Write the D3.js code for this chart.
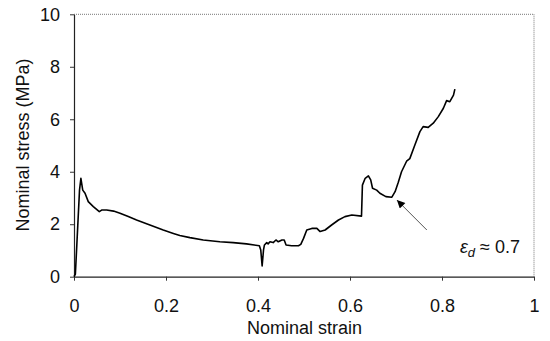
<!DOCTYPE html>
<html>
<head>
<meta charset="utf-8">
<script src="https://cdn.jsdelivr.net/npm/d3@7"></script>
<style>
  html, body { margin: 0; padding: 0; background: #fff; }
  svg { display: block; font-family: "Liberation Sans", Arial, sans-serif; }
</style>
</head>
<body>
<svg id="chart" width="550" height="341"></svg>
<script>
// Stress-strain curve.
const strain = [0, 0.003, 0.012, 0.015, 0.019, 0.024, 0.031, 0.042, 0.055, 0.060,
  0.071, 0.086, 0.100, 0.118, 0.136, 0.165, 0.194, 0.216, 0.230, 0.252,
  0.281, 0.317, 0.346, 0.375, 0.403, 0.406, 0.409, 0.412, 0.414, 0.419,
  0.422, 0.426, 0.433, 0.439, 0.444, 0.452, 0.457, 0.461, 0.473, 0.488,
  0.493, 0.499, 0.506, 0.517, 0.528, 0.535, 0.546, 0.560, 0.575, 0.589,
  0.604, 0.625, 0.627, 0.633, 0.640, 0.645, 0.649, 0.658, 0.665, 0.678,
  0.691, 0.698, 0.705, 0.712, 0.723, 0.730, 0.741, 0.752, 0.759, 0.770,
  0.781, 0.792, 0.803, 0.810, 0.817, 0.825, 0.828];
const stress = [0, 0.1, 3.3, 3.75, 3.3, 3.18, 2.86, 2.67, 2.48, 2.54,
  2.54, 2.50, 2.42, 2.29, 2.16, 1.97, 1.78, 1.65, 1.57, 1.49,
  1.40, 1.33, 1.30, 1.25, 1.18, 1.02, 0.41, 1.02, 1.21, 1.30,
  1.25, 1.33, 1.30, 1.40, 1.33, 1.40, 1.40, 1.21, 1.18, 1.18,
  1.23, 1.46, 1.78, 1.84, 1.84, 1.72, 1.78, 1.97, 2.16, 2.29,
  2.35, 2.31, 3.49, 3.75, 3.84, 3.69, 3.37, 3.30, 3.18, 3.05,
  3.03, 3.24, 3.6, 4.0, 4.4, 4.5, 5.02, 5.53, 5.72, 5.69,
  5.85, 6.10, 6.42, 6.71, 6.67, 6.92, 7.15];

const xTicks = [0, 0.2, 0.4, 0.6, 0.8, 1];
const yTicks = [0, 2, 4, 6, 8, 10];

// Annotation: arrow points at the densification strain.
const annotTip = [0.702, 2.92];
const annotTail = [0.767, 1.78];
const annotText = [0.839, 0.9];

const svg = d3.select("#chart");
const margin = { top: 14.3, right: 16, bottom: 64.3, left: 74 };
const width = +svg.attr("width") - margin.left - margin.right;
const height = +svg.attr("height") - margin.top - margin.bottom;

const x = d3.scaleLinear().domain([0, 1]).range([0, width]);
const y = d3.scaleLinear().domain([0, 10]).range([height, 0]);

const g = svg.append("g").attr("transform", `translate(${margin.left},${margin.top})`);

// Dotted top and right frame.
g.append("line").attr("x1", 0).attr("x2", width).attr("y1", 0).attr("y2", 0)
  .attr("stroke", "#777").attr("stroke-dasharray", "1,1");
g.append("line").attr("x1", width).attr("x2", width).attr("y1", 0).attr("y2", height)
  .attr("stroke", "#777").attr("stroke-dasharray", "1,1");

// X axis.
const xAxis = g.append("g")
  .attr("transform", `translate(0,${height})`)
  .call(d3.axisBottom(x).tickValues(xTicks).tickSize(4).tickSizeOuter(0).tickPadding(19)
    .tickFormat(d3.format("~g")));

// Y axis.
const yAxis = g.append("g")
  .call(d3.axisLeft(y).tickValues(yTicks).tickSize(4).tickSizeOuter(0).tickPadding(10));

[xAxis, yAxis].forEach(a => {
  a.select(".domain").attr("stroke", "#222").attr("stroke-width", 1.2);
  a.selectAll(".tick line").attr("stroke", "#333");
  a.selectAll(".tick text").attr("font-size", 18).attr("fill", "#111")
    .attr("font-family", "'Liberation Sans', Arial, sans-serif");
});

// Axis titles.
svg.append("text")
  .attr("x", margin.left + width / 2 + 0.5).attr("y", 334)
  .attr("text-anchor", "middle").attr("font-size", 18).attr("fill", "#111")
  .text("Nominal strain");
svg.append("text")
  .attr("transform", `translate(29,145) rotate(-90)`)
  .attr("text-anchor", "middle").attr("font-size", 18).attr("fill", "#111")
  .text("Nominal stress (MPa)");

// The curve.
const line = d3.line().x(i => x(strain[i])).y(i => y(stress[i]));
g.append("path")
  .datum(d3.range(strain.length))
  .attr("fill", "none")
  .attr("stroke", "#000")
  .attr("stroke-width", 1.6)
  .attr("stroke-linejoin", "round")
  .attr("d", line);

// Annotation arrow.
svg.append("defs").append("marker")
  .attr("id", "arrow").attr("viewBox", "0 0 10 10")
  .attr("refX", 10).attr("refY", 5)
  .attr("markerWidth", 11).attr("markerHeight", 8)
  .attr("markerUnits", "userSpaceOnUse")
  .attr("orient", "auto")
  .append("path").attr("d", "M0,0 L10,5 L0,10 Z").attr("fill", "#000");

g.append("line")
  .attr("x1", x(annotTail[0])).attr("y1", y(annotTail[1]))
  .attr("x2", x(annotTip[0])).attr("y2", y(annotTip[1]))
  .attr("stroke", "#555").attr("stroke-width", 1)
  .attr("marker-end", "url(#arrow)");

const t = g.append("text")
  .attr("x", x(annotText[0])).attr("y", y(annotText[1]))
  .attr("font-size", 18).attr("fill", "#111");
t.append("tspan").attr("font-style", "italic").text("ε");
t.append("tspan").attr("font-style", "italic").attr("font-size", 13).attr("dy", 4).text("d");
t.append("tspan").attr("dy", -4).text(" ≈ 0.7");
</script>
</body>
</html>
